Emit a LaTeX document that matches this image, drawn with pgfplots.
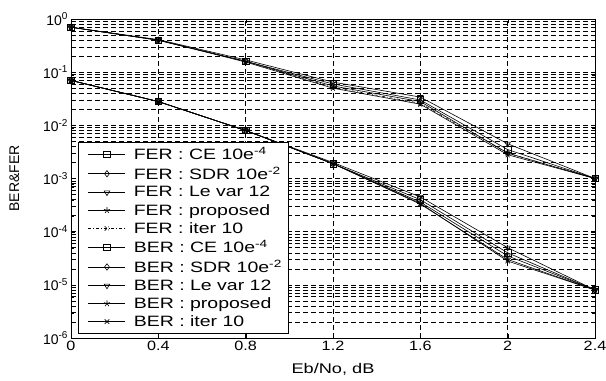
\documentclass[border=0pt]{standalone}
\usepackage{fontspec}
\setmainfont{Liberation Sans}
\newfontfamily\wfont[FakeStretch=1.3]{Liberation Sans}
\newfontfamily\xfont[FakeStretch=1.2]{Liberation Sans}
\usepackage{pgfplots}
\pgfplotsset{compat=1.18}
\newcommand{\expo}[1]{\raisebox{5.5pt}{\fontsize{10}{10}\selectfont #1}}
\begin{document}
\begin{tikzpicture}
\begin{axis}[
  name=ax,
  scale only axis, width=524pt, height=319pt,
  ymode=log, log basis y=10,
  xmin=0, xmax=2.4, ymin=1e-6, ymax=1,
  xtick={0,0.4,0.8,1.2,1.6,2,2.4},
  xticklabels={0,0.4,0.8,1.2,1.6,2,2.4},
  yticklabel={10\expo{\pgfmathparse{int(round(\tick))}\pgfmathresult}},
  yticklabel style={font=\fontsize{14}{15}\selectfont},
  xticklabel style={font=\fontsize{13.5}{15}\selectfont\xfont},
  xlabel={Eb/No, dB}, ylabel={BER\&FER},
  xlabel style={font=\fontsize{14}{16}\selectfont\wfont, at={(axis description cs:0.5,-0.097)}, anchor=center},
  ylabel style={font=\fontsize{14}{16}\selectfont, at={(axis description cs:-0.108,0.5)}, anchor=center},
  grid=both,
  major grid style={black, dash pattern=on 5pt off 3pt, line width=0.6pt},
  minor grid style={black, dash pattern=on 5pt off 3pt, line width=0.6pt},
  tick style={black},
  axis line style={black, line width=0.8pt},
  every axis plot/.append style={black, line width=0.6pt, mark size=3.2pt},
  legend style={at={(0.0133,0.0157)}, anchor=south west, draw=black, fill=white,
    font=\fontsize{15}{16}\selectfont\wfont, cells={anchor=west}, row sep=1.7pt,
    column sep=6pt, inner xsep=4pt, inner ysep=3pt},
  legend image code/.code={\path (-6pt,0pt); \draw[mark repeat=2,mark phase=2,#1] plot coordinates {(0cm,0cm)(0.65cm,0cm)(1.3cm,0cm)};},
]
\addplot[black, mark=square] coordinates {(0,0.7)(0.4,0.40)(0.8,0.16)(1.2,0.060)(1.6,0.030)(2,0.0035)(2.4,0.001)};
\addlegendentry{FER : CE 10e\textsuperscript{-4}}
\addplot[black, mark=diamond] coordinates {(0,0.7)(0.4,0.40)(0.8,0.16)(1.2,0.055)(1.6,0.028)(2,0.0030)(2.4,0.001)};
\addlegendentry{FER : SDR 10e\textsuperscript{-2}\hspace{4pt}}
\addplot[black, mark=triangle, mark options={rotate=180}] coordinates {(0,0.7)(0.4,0.41)(0.8,0.17)(1.2,0.065)(1.6,0.034)(2,0.0045)(2.4,0.001)};
\addlegendentry{FER : Le var 12}
\addplot[black, mark=star] coordinates {(0,0.7)(0.4,0.40)(0.8,0.155)(1.2,0.050)(1.6,0.025)(2,0.0028)(2.4,0.001)};
\addlegendentry{FER : proposed}
\addplot[black, mark=x, dashdotted] coordinates {(0,0.7)(0.4,0.40)(0.8,0.16)(1.2,0.052)(1.6,0.026)(2,0.0030)(2.4,0.001)};
\addlegendentry{FER : iter 10}
\addplot[black, mark=square] coordinates {(0,0.07)(0.4,0.028)(0.8,0.008)(1.2,0.0019)(1.6,4.0e-4)(2,4.0e-5)(2.4,8e-6)};
\addlegendentry{BER : CE 10e\textsuperscript{-4}}
\addplot[black, mark=diamond] coordinates {(0,0.07)(0.4,0.028)(0.8,0.008)(1.2,0.0019)(1.6,3.6e-4)(2,3.5e-5)(2.4,8e-6)};
\addlegendentry{BER : SDR 10e\textsuperscript{-2}}
\addplot[black, mark=triangle, mark options={rotate=180}] coordinates {(0,0.07)(0.4,0.028)(0.8,0.008)(1.2,0.0020)(1.6,4.5e-4)(2,5.0e-5)(2.4,8e-6)};
\addlegendentry{BER : Le var 12}
\addplot[black, mark=star] coordinates {(0,0.07)(0.4,0.028)(0.8,0.008)(1.2,0.0019)(1.6,3.3e-4)(2,3.0e-5)(2.4,8e-6)};
\addlegendentry{BER : proposed}
\addplot[black, mark=x] coordinates {(0,0.07)(0.4,0.028)(0.8,0.008)(1.2,0.0019)(1.6,3.4e-4)(2,2.8e-5)(2.4,8e-6)};
\addlegendentry{BER : iter 10}
\end{axis}
\pgfresetboundingbox
\path[use as bounding box] ([xshift=-71pt,yshift=-42pt]ax.south west) rectangle ([xshift=11pt,yshift=19pt]ax.north east);
\end{tikzpicture}
\end{document}
